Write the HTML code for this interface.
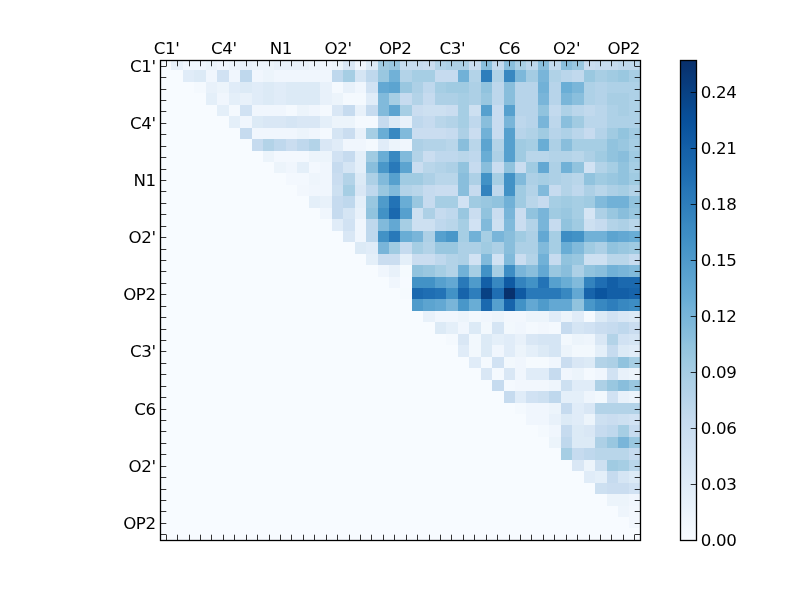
<!DOCTYPE html>
<html><head><meta charset="utf-8"><title>heatmap</title>
<style>html,body{margin:0;padding:0;background:#fff}svg{display:block}text{font-family:"DejaVu Sans","Liberation Sans",sans-serif;font-size:16.67px;fill:#000}.cb text{letter-spacing:-0.3px}.ax text{letter-spacing:-0.4px}</style></head><body>
<svg width="800" height="600" viewBox="0 0 800 600">
<rect x="0" y="0" width="800" height="600" fill="#ffffff"/>
<rect x="160" y="60" width="480" height="480" fill="#f7fbff"/>
<g shape-rendering="crispEdges">
<rect x="171" y="60" width="12" height="10" fill="#e8f1fa"/>
<rect x="183" y="60" width="23" height="10" fill="#f0f6fd"/>
<rect x="206" y="60" width="11" height="10" fill="#ecf4fb"/>
<rect x="217" y="60" width="12" height="10" fill="#f0f6fd"/>
<rect x="229" y="60" width="11" height="10" fill="#ecf4fb"/>
<rect x="240" y="60" width="12" height="10" fill="#e8f1fa"/>
<rect x="252" y="60" width="22" height="10" fill="#ecf4fb"/>
<rect x="274" y="60" width="35" height="10" fill="#e8f1fa"/>
<rect x="309" y="60" width="11" height="10" fill="#ecf4fb"/>
<rect x="320" y="60" width="12" height="10" fill="#f0f6fd"/>
<rect x="332" y="60" width="11" height="10" fill="#ecf4fb"/>
<rect x="343" y="60" width="12" height="10" fill="#d9e7f5"/>
<rect x="355" y="60" width="11" height="10" fill="#f0f6fd"/>
<rect x="366" y="60" width="12" height="10" fill="#dceaf6"/>
<rect x="378" y="60" width="11" height="10" fill="#a0cbe2"/>
<rect x="389" y="60" width="11" height="10" fill="#99c7e0"/>
<rect x="400" y="60" width="23" height="10" fill="#c6dbef"/>
<rect x="423" y="60" width="12" height="10" fill="#caddf0"/>
<rect x="435" y="60" width="11" height="10" fill="#b3d3e8"/>
<rect x="446" y="60" width="23" height="10" fill="#add0e6"/>
<rect x="469" y="60" width="12" height="10" fill="#caddf0"/>
<rect x="481" y="60" width="11" height="10" fill="#89bedc"/>
<rect x="492" y="60" width="12" height="10" fill="#c3daee"/>
<rect x="504" y="60" width="11" height="10" fill="#89bedc"/>
<rect x="515" y="60" width="11" height="10" fill="#aacfe5"/>
<rect x="526" y="60" width="12" height="10" fill="#bdd7ec"/>
<rect x="538" y="60" width="11" height="10" fill="#89bedc"/>
<rect x="549" y="60" width="12" height="10" fill="#c3daee"/>
<rect x="561" y="60" width="11" height="10" fill="#89bedc"/>
<rect x="572" y="60" width="12" height="10" fill="#99c7e0"/>
<rect x="584" y="60" width="11" height="10" fill="#caddf0"/>
<rect x="595" y="60" width="23" height="10" fill="#c6dbef"/>
<rect x="618" y="60" width="22" height="10" fill="#bfd8ed"/>
<rect x="183" y="70" width="11" height="12" fill="#e0ecf8"/>
<rect x="194" y="70" width="12" height="12" fill="#dceaf6"/>
<rect x="206" y="70" width="11" height="12" fill="#f0f6fd"/>
<rect x="217" y="70" width="12" height="12" fill="#d1e2f3"/>
<rect x="229" y="70" width="11" height="12" fill="#f0f6fd"/>
<rect x="240" y="70" width="12" height="12" fill="#bfd8ed"/>
<rect x="252" y="70" width="11" height="12" fill="#f0f6fd"/>
<rect x="263" y="70" width="11" height="12" fill="#ecf4fb"/>
<rect x="274" y="70" width="58" height="12" fill="#f0f6fd"/>
<rect x="332" y="70" width="11" height="12" fill="#bfd8ed"/>
<rect x="343" y="70" width="12" height="12" fill="#a6cee4"/>
<rect x="355" y="70" width="11" height="12" fill="#d5e5f4"/>
<rect x="366" y="70" width="12" height="12" fill="#bfd8ed"/>
<rect x="378" y="70" width="11" height="12" fill="#99c7e0"/>
<rect x="389" y="70" width="11" height="12" fill="#71b1d7"/>
<rect x="400" y="70" width="12" height="12" fill="#b3d3e8"/>
<rect x="412" y="70" width="23" height="12" fill="#a6cee4"/>
<rect x="435" y="70" width="23" height="12" fill="#c6dbef"/>
<rect x="458" y="70" width="11" height="12" fill="#71b1d7"/>
<rect x="469" y="70" width="12" height="12" fill="#b3d3e8"/>
<rect x="481" y="70" width="11" height="12" fill="#2e7ebc"/>
<rect x="492" y="70" width="12" height="12" fill="#b0d2e7"/>
<rect x="504" y="70" width="11" height="12" fill="#3888c1"/>
<rect x="515" y="70" width="11" height="12" fill="#7db8da"/>
<rect x="526" y="70" width="12" height="12" fill="#a4cce3"/>
<rect x="538" y="70" width="11" height="12" fill="#79b5d9"/>
<rect x="549" y="70" width="12" height="12" fill="#b0d2e7"/>
<rect x="561" y="70" width="11" height="12" fill="#bad6eb"/>
<rect x="572" y="70" width="12" height="12" fill="#c1d9ed"/>
<rect x="584" y="70" width="11" height="12" fill="#9ac8e0"/>
<rect x="595" y="70" width="12" height="12" fill="#a8cee4"/>
<rect x="607" y="70" width="11" height="12" fill="#a1cbe2"/>
<rect x="618" y="70" width="11" height="12" fill="#9ac8e0"/>
<rect x="629" y="70" width="11" height="12" fill="#a8cee4"/>
<rect x="194" y="82" width="12" height="11" fill="#f4f9fe"/>
<rect x="206" y="82" width="11" height="11" fill="#e8f1fa"/>
<rect x="217" y="82" width="12" height="11" fill="#ecf4fb"/>
<rect x="229" y="82" width="11" height="11" fill="#e0ecf8"/>
<rect x="240" y="82" width="12" height="11" fill="#dceaf6"/>
<rect x="252" y="82" width="11" height="11" fill="#e0ecf8"/>
<rect x="263" y="82" width="11" height="11" fill="#dceaf6"/>
<rect x="274" y="82" width="12" height="11" fill="#e0ecf8"/>
<rect x="286" y="82" width="34" height="11" fill="#dceaf6"/>
<rect x="320" y="82" width="12" height="11" fill="#e8f1fa"/>
<rect x="332" y="82" width="11" height="11" fill="#f4f9fe"/>
<rect x="343" y="82" width="12" height="11" fill="#e8f1fa"/>
<rect x="355" y="82" width="11" height="11" fill="#f0f6fd"/>
<rect x="366" y="82" width="12" height="11" fill="#d1e2f3"/>
<rect x="378" y="82" width="11" height="11" fill="#63a8d3"/>
<rect x="389" y="82" width="11" height="11" fill="#5ca4d0"/>
<rect x="400" y="82" width="12" height="11" fill="#99c7e0"/>
<rect x="412" y="82" width="11" height="11" fill="#add0e6"/>
<rect x="423" y="82" width="12" height="11" fill="#bfd8ed"/>
<rect x="435" y="82" width="11" height="11" fill="#a6cee4"/>
<rect x="446" y="82" width="23" height="11" fill="#a0cbe2"/>
<rect x="469" y="82" width="12" height="11" fill="#add0e6"/>
<rect x="481" y="82" width="11" height="11" fill="#91c3de"/>
<rect x="492" y="82" width="12" height="11" fill="#bdd7ec"/>
<rect x="504" y="82" width="11" height="11" fill="#89bedc"/>
<rect x="515" y="82" width="23" height="11" fill="#b7d4ea"/>
<rect x="538" y="82" width="11" height="11" fill="#71b1d7"/>
<rect x="549" y="82" width="12" height="11" fill="#b7d4ea"/>
<rect x="561" y="82" width="11" height="11" fill="#6aaed6"/>
<rect x="572" y="82" width="12" height="11" fill="#7ab6d9"/>
<rect x="584" y="82" width="11" height="11" fill="#aed1e7"/>
<rect x="595" y="82" width="12" height="11" fill="#b4d3e9"/>
<rect x="607" y="82" width="33" height="11" fill="#aed1e7"/>
<rect x="206" y="93" width="11" height="12" fill="#e4eff9"/>
<rect x="217" y="93" width="12" height="12" fill="#f0f6fd"/>
<rect x="229" y="93" width="11" height="12" fill="#e4eff9"/>
<rect x="240" y="93" width="12" height="12" fill="#e8f1fa"/>
<rect x="252" y="93" width="11" height="12" fill="#e0ecf8"/>
<rect x="263" y="93" width="11" height="12" fill="#dceaf6"/>
<rect x="274" y="93" width="12" height="12" fill="#e0ecf8"/>
<rect x="286" y="93" width="34" height="12" fill="#dceaf6"/>
<rect x="320" y="93" width="12" height="12" fill="#e8f1fa"/>
<rect x="332" y="93" width="11" height="12" fill="#ecf4fb"/>
<rect x="343" y="93" width="23" height="12" fill="#f4f9fe"/>
<rect x="366" y="93" width="12" height="12" fill="#e0ecf8"/>
<rect x="378" y="93" width="11" height="12" fill="#81badb"/>
<rect x="389" y="93" width="11" height="12" fill="#a6cee4"/>
<rect x="400" y="93" width="12" height="12" fill="#c6dbef"/>
<rect x="412" y="93" width="11" height="12" fill="#b3d3e8"/>
<rect x="423" y="93" width="12" height="12" fill="#c6dbef"/>
<rect x="435" y="93" width="23" height="12" fill="#add0e6"/>
<rect x="458" y="93" width="11" height="12" fill="#a6cee4"/>
<rect x="469" y="93" width="12" height="12" fill="#add0e6"/>
<rect x="481" y="93" width="11" height="12" fill="#99c7e0"/>
<rect x="492" y="93" width="12" height="12" fill="#bdd7ec"/>
<rect x="504" y="93" width="11" height="12" fill="#89bedc"/>
<rect x="515" y="93" width="23" height="12" fill="#b7d4ea"/>
<rect x="538" y="93" width="11" height="12" fill="#79b5d9"/>
<rect x="549" y="93" width="12" height="12" fill="#b7d4ea"/>
<rect x="561" y="93" width="11" height="12" fill="#7ab6d9"/>
<rect x="572" y="93" width="12" height="12" fill="#8abfdd"/>
<rect x="584" y="93" width="11" height="12" fill="#aed1e7"/>
<rect x="595" y="93" width="12" height="12" fill="#b4d3e9"/>
<rect x="607" y="93" width="22" height="12" fill="#a8cee4"/>
<rect x="629" y="93" width="11" height="12" fill="#aed1e7"/>
<rect x="217" y="105" width="12" height="11" fill="#e4eff9"/>
<rect x="229" y="105" width="11" height="11" fill="#f4f9fe"/>
<rect x="240" y="105" width="12" height="11" fill="#d1e2f3"/>
<rect x="252" y="105" width="34" height="11" fill="#f0f6fd"/>
<rect x="286" y="105" width="11" height="11" fill="#f4f9fe"/>
<rect x="297" y="105" width="12" height="11" fill="#ecf4fb"/>
<rect x="309" y="105" width="11" height="11" fill="#f0f6fd"/>
<rect x="320" y="105" width="12" height="11" fill="#f4f9fe"/>
<rect x="332" y="105" width="11" height="11" fill="#d9e7f5"/>
<rect x="343" y="105" width="12" height="11" fill="#c6dbef"/>
<rect x="355" y="105" width="11" height="11" fill="#e8f1fa"/>
<rect x="366" y="105" width="12" height="11" fill="#c6dbef"/>
<rect x="378" y="105" width="11" height="11" fill="#81badb"/>
<rect x="389" y="105" width="11" height="11" fill="#5ca4d0"/>
<rect x="400" y="105" width="12" height="11" fill="#a6cee4"/>
<rect x="412" y="105" width="11" height="11" fill="#caddf0"/>
<rect x="423" y="105" width="23" height="11" fill="#cde0f1"/>
<rect x="446" y="105" width="12" height="11" fill="#caddf0"/>
<rect x="458" y="105" width="11" height="11" fill="#a6cee4"/>
<rect x="469" y="105" width="12" height="11" fill="#cde0f1"/>
<rect x="481" y="105" width="11" height="11" fill="#56a0ce"/>
<rect x="492" y="105" width="12" height="11" fill="#c8dcf0"/>
<rect x="504" y="105" width="11" height="11" fill="#56a0ce"/>
<rect x="515" y="105" width="23" height="11" fill="#b7d4ea"/>
<rect x="538" y="105" width="11" height="11" fill="#91c3de"/>
<rect x="549" y="105" width="12" height="11" fill="#c3daee"/>
<rect x="561" y="105" width="11" height="11" fill="#aed1e7"/>
<rect x="572" y="105" width="12" height="11" fill="#bad6eb"/>
<rect x="584" y="105" width="11" height="11" fill="#c1d9ed"/>
<rect x="595" y="105" width="12" height="11" fill="#bad6eb"/>
<rect x="607" y="105" width="11" height="11" fill="#aed1e7"/>
<rect x="618" y="105" width="11" height="11" fill="#a8cee4"/>
<rect x="629" y="105" width="11" height="11" fill="#aed1e7"/>
<rect x="229" y="116" width="11" height="12" fill="#e4eff9"/>
<rect x="240" y="116" width="12" height="12" fill="#f0f6fd"/>
<rect x="252" y="116" width="11" height="12" fill="#dceaf6"/>
<rect x="263" y="116" width="23" height="12" fill="#d9e7f5"/>
<rect x="286" y="116" width="11" height="12" fill="#d5e5f4"/>
<rect x="297" y="116" width="23" height="12" fill="#d9e7f5"/>
<rect x="320" y="116" width="12" height="12" fill="#e4eff9"/>
<rect x="332" y="116" width="23" height="12" fill="#ecf4fb"/>
<rect x="355" y="116" width="23" height="12" fill="#f4f9fe"/>
<rect x="378" y="116" width="11" height="12" fill="#c6dbef"/>
<rect x="389" y="116" width="11" height="12" fill="#dceaf6"/>
<rect x="400" y="116" width="12" height="12" fill="#e8f1fa"/>
<rect x="412" y="116" width="11" height="12" fill="#bfd8ed"/>
<rect x="423" y="116" width="12" height="12" fill="#c6dbef"/>
<rect x="435" y="116" width="11" height="12" fill="#b9d6ea"/>
<rect x="446" y="116" width="12" height="12" fill="#b3d3e8"/>
<rect x="458" y="116" width="11" height="12" fill="#a6cee4"/>
<rect x="469" y="116" width="12" height="12" fill="#bfd8ed"/>
<rect x="481" y="116" width="11" height="12" fill="#89bedc"/>
<rect x="492" y="116" width="12" height="12" fill="#c8dcf0"/>
<rect x="504" y="116" width="11" height="12" fill="#79b5d9"/>
<rect x="515" y="116" width="11" height="12" fill="#bdd7ec"/>
<rect x="526" y="116" width="12" height="12" fill="#b7d4ea"/>
<rect x="538" y="116" width="11" height="12" fill="#79b5d9"/>
<rect x="549" y="116" width="12" height="12" fill="#bdd7ec"/>
<rect x="561" y="116" width="11" height="12" fill="#8abfdd"/>
<rect x="572" y="116" width="12" height="12" fill="#a1cbe2"/>
<rect x="584" y="116" width="23" height="12" fill="#bad6eb"/>
<rect x="607" y="116" width="33" height="12" fill="#aed1e7"/>
<rect x="240" y="128" width="12" height="11" fill="#c6dbef"/>
<rect x="252" y="128" width="45" height="11" fill="#f0f6fd"/>
<rect x="297" y="128" width="12" height="11" fill="#ecf4fb"/>
<rect x="309" y="128" width="11" height="11" fill="#f0f6fd"/>
<rect x="320" y="128" width="12" height="11" fill="#f4f9fe"/>
<rect x="332" y="128" width="11" height="11" fill="#d5e5f4"/>
<rect x="343" y="128" width="12" height="11" fill="#caddf0"/>
<rect x="355" y="128" width="11" height="11" fill="#e8f1fa"/>
<rect x="366" y="128" width="12" height="11" fill="#a6cee4"/>
<rect x="378" y="128" width="11" height="11" fill="#69add5"/>
<rect x="389" y="128" width="11" height="11" fill="#3888c1"/>
<rect x="400" y="128" width="12" height="11" fill="#81badb"/>
<rect x="412" y="128" width="34" height="11" fill="#caddf0"/>
<rect x="446" y="128" width="12" height="11" fill="#c6dbef"/>
<rect x="458" y="128" width="11" height="11" fill="#add0e6"/>
<rect x="469" y="128" width="12" height="11" fill="#caddf0"/>
<rect x="481" y="128" width="11" height="11" fill="#71b1d7"/>
<rect x="492" y="128" width="12" height="11" fill="#c8dcf0"/>
<rect x="504" y="128" width="11" height="11" fill="#56a0ce"/>
<rect x="515" y="128" width="11" height="11" fill="#b7d4ea"/>
<rect x="526" y="128" width="12" height="11" fill="#b0d2e7"/>
<rect x="538" y="128" width="11" height="11" fill="#a0cbe2"/>
<rect x="549" y="128" width="12" height="11" fill="#b7d4ea"/>
<rect x="561" y="128" width="11" height="11" fill="#aed1e7"/>
<rect x="572" y="128" width="12" height="11" fill="#bad6eb"/>
<rect x="584" y="128" width="11" height="11" fill="#c7dbef"/>
<rect x="595" y="128" width="12" height="11" fill="#b4d3e9"/>
<rect x="607" y="128" width="11" height="11" fill="#a1cbe2"/>
<rect x="618" y="128" width="11" height="11" fill="#92c4de"/>
<rect x="629" y="128" width="11" height="11" fill="#a1cbe2"/>
<rect x="252" y="139" width="11" height="12" fill="#c6dbef"/>
<rect x="263" y="139" width="11" height="12" fill="#b3d3e8"/>
<rect x="274" y="139" width="12" height="12" fill="#bfd8ed"/>
<rect x="286" y="139" width="11" height="12" fill="#caddf0"/>
<rect x="297" y="139" width="12" height="12" fill="#bfd8ed"/>
<rect x="309" y="139" width="11" height="12" fill="#b3d3e8"/>
<rect x="320" y="139" width="12" height="12" fill="#d9e7f5"/>
<rect x="332" y="139" width="11" height="12" fill="#e0ecf8"/>
<rect x="343" y="139" width="23" height="12" fill="#f0f6fd"/>
<rect x="366" y="139" width="12" height="12" fill="#f4f9fe"/>
<rect x="378" y="139" width="11" height="12" fill="#e0ecf8"/>
<rect x="389" y="139" width="11" height="12" fill="#ecf4fb"/>
<rect x="400" y="139" width="12" height="12" fill="#f0f6fd"/>
<rect x="412" y="139" width="11" height="12" fill="#add0e6"/>
<rect x="423" y="139" width="23" height="12" fill="#b3d3e8"/>
<rect x="446" y="139" width="12" height="12" fill="#b9d6ea"/>
<rect x="458" y="139" width="11" height="12" fill="#89bedc"/>
<rect x="469" y="139" width="12" height="12" fill="#b9d6ea"/>
<rect x="481" y="139" width="11" height="12" fill="#5ca4d0"/>
<rect x="492" y="139" width="12" height="12" fill="#b3d3e8"/>
<rect x="504" y="139" width="11" height="12" fill="#56a0ce"/>
<rect x="515" y="139" width="11" height="12" fill="#a0cbe2"/>
<rect x="526" y="139" width="12" height="12" fill="#a6cee4"/>
<rect x="538" y="139" width="11" height="12" fill="#69add5"/>
<rect x="549" y="139" width="12" height="12" fill="#add0e6"/>
<rect x="561" y="139" width="11" height="12" fill="#89bedc"/>
<rect x="572" y="139" width="35" height="12" fill="#a6cee4"/>
<rect x="607" y="139" width="11" height="12" fill="#91c3de"/>
<rect x="618" y="139" width="11" height="12" fill="#99c7e0"/>
<rect x="629" y="139" width="11" height="12" fill="#a6cee4"/>
<rect x="263" y="151" width="11" height="11" fill="#ecf4fb"/>
<rect x="274" y="151" width="35" height="11" fill="#f3f8fe"/>
<rect x="309" y="151" width="23" height="11" fill="#ecf4fb"/>
<rect x="332" y="151" width="11" height="11" fill="#d1e2f3"/>
<rect x="343" y="151" width="12" height="11" fill="#c6dbef"/>
<rect x="355" y="151" width="11" height="11" fill="#e4eff9"/>
<rect x="366" y="151" width="12" height="11" fill="#a0cbe2"/>
<rect x="378" y="151" width="11" height="11" fill="#69add5"/>
<rect x="389" y="151" width="11" height="11" fill="#3888c1"/>
<rect x="400" y="151" width="12" height="11" fill="#81badb"/>
<rect x="412" y="151" width="11" height="11" fill="#b3d3e8"/>
<rect x="423" y="151" width="12" height="11" fill="#caddf0"/>
<rect x="435" y="151" width="23" height="11" fill="#bfd8ed"/>
<rect x="458" y="151" width="11" height="11" fill="#b9d6ea"/>
<rect x="469" y="151" width="12" height="11" fill="#bfd8ed"/>
<rect x="481" y="151" width="11" height="11" fill="#69add5"/>
<rect x="492" y="151" width="12" height="11" fill="#add0e6"/>
<rect x="504" y="151" width="11" height="11" fill="#56a0ce"/>
<rect x="515" y="151" width="11" height="11" fill="#a0cbe2"/>
<rect x="526" y="151" width="23" height="11" fill="#b9d6ea"/>
<rect x="549" y="151" width="23" height="11" fill="#b3d3e8"/>
<rect x="572" y="151" width="12" height="11" fill="#b9d6ea"/>
<rect x="584" y="151" width="11" height="11" fill="#add0e6"/>
<rect x="595" y="151" width="12" height="11" fill="#a0cbe2"/>
<rect x="607" y="151" width="11" height="11" fill="#91c3de"/>
<rect x="618" y="151" width="11" height="11" fill="#89bedc"/>
<rect x="629" y="151" width="11" height="11" fill="#a0cbe2"/>
<rect x="274" y="162" width="12" height="11" fill="#ecf4fb"/>
<rect x="286" y="162" width="11" height="11" fill="#f0f6fd"/>
<rect x="297" y="162" width="12" height="11" fill="#e4eff9"/>
<rect x="309" y="162" width="11" height="11" fill="#f3f8fe"/>
<rect x="320" y="162" width="12" height="11" fill="#f0f6fd"/>
<rect x="332" y="162" width="11" height="11" fill="#c6dbef"/>
<rect x="343" y="162" width="12" height="11" fill="#d5e5f4"/>
<rect x="355" y="162" width="11" height="11" fill="#e4eff9"/>
<rect x="366" y="162" width="12" height="11" fill="#89bedc"/>
<rect x="378" y="162" width="11" height="11" fill="#4997c9"/>
<rect x="389" y="162" width="11" height="11" fill="#2979b9"/>
<rect x="400" y="162" width="12" height="11" fill="#5ca4d0"/>
<rect x="412" y="162" width="11" height="11" fill="#caddf0"/>
<rect x="423" y="162" width="12" height="11" fill="#b9d6ea"/>
<rect x="435" y="162" width="11" height="11" fill="#b3d3e8"/>
<rect x="446" y="162" width="12" height="11" fill="#add0e6"/>
<rect x="458" y="162" width="11" height="11" fill="#91c3de"/>
<rect x="469" y="162" width="12" height="11" fill="#c6dbef"/>
<rect x="481" y="162" width="11" height="11" fill="#89bedc"/>
<rect x="492" y="162" width="12" height="11" fill="#caddf0"/>
<rect x="504" y="162" width="11" height="11" fill="#91c3de"/>
<rect x="515" y="162" width="11" height="11" fill="#caddf0"/>
<rect x="526" y="162" width="12" height="11" fill="#a0cbe2"/>
<rect x="538" y="162" width="11" height="11" fill="#63a8d3"/>
<rect x="549" y="162" width="12" height="11" fill="#add0e6"/>
<rect x="561" y="162" width="11" height="11" fill="#71b1d7"/>
<rect x="572" y="162" width="12" height="11" fill="#91c3de"/>
<rect x="584" y="162" width="11" height="11" fill="#d1e2f3"/>
<rect x="595" y="162" width="12" height="11" fill="#b3d3e8"/>
<rect x="607" y="162" width="11" height="11" fill="#a6cee4"/>
<rect x="618" y="162" width="11" height="11" fill="#91c3de"/>
<rect x="629" y="162" width="11" height="11" fill="#a6cee4"/>
<rect x="286" y="173" width="23" height="12" fill="#f3f8fe"/>
<rect x="309" y="173" width="11" height="12" fill="#eef5fc"/>
<rect x="320" y="173" width="12" height="12" fill="#f0f6fd"/>
<rect x="332" y="173" width="11" height="12" fill="#caddf0"/>
<rect x="343" y="173" width="12" height="12" fill="#b3d3e8"/>
<rect x="355" y="173" width="11" height="12" fill="#dceaf6"/>
<rect x="366" y="173" width="12" height="12" fill="#add0e6"/>
<rect x="378" y="173" width="11" height="12" fill="#81badb"/>
<rect x="389" y="173" width="11" height="12" fill="#56a0ce"/>
<rect x="400" y="173" width="23" height="12" fill="#a0cbe2"/>
<rect x="423" y="173" width="12" height="12" fill="#add0e6"/>
<rect x="435" y="173" width="23" height="12" fill="#b9d6ea"/>
<rect x="458" y="173" width="11" height="12" fill="#89bedc"/>
<rect x="469" y="173" width="12" height="12" fill="#add0e6"/>
<rect x="481" y="173" width="11" height="12" fill="#4292c6"/>
<rect x="492" y="173" width="12" height="12" fill="#a6cee4"/>
<rect x="504" y="173" width="11" height="12" fill="#4292c6"/>
<rect x="515" y="173" width="11" height="12" fill="#81badb"/>
<rect x="526" y="173" width="12" height="12" fill="#add0e6"/>
<rect x="538" y="173" width="11" height="12" fill="#a6cee4"/>
<rect x="549" y="173" width="12" height="12" fill="#add0e6"/>
<rect x="561" y="173" width="11" height="12" fill="#b3d3e8"/>
<rect x="572" y="173" width="12" height="12" fill="#b9d6ea"/>
<rect x="584" y="173" width="11" height="12" fill="#91c3de"/>
<rect x="595" y="173" width="12" height="12" fill="#a0cbe2"/>
<rect x="607" y="173" width="11" height="12" fill="#99c7e0"/>
<rect x="618" y="173" width="11" height="12" fill="#91c3de"/>
<rect x="629" y="173" width="11" height="12" fill="#a0cbe2"/>
<rect x="297" y="185" width="12" height="11" fill="#f2f7fd"/>
<rect x="309" y="185" width="23" height="11" fill="#f0f6fd"/>
<rect x="332" y="185" width="11" height="11" fill="#cde0f1"/>
<rect x="343" y="185" width="12" height="11" fill="#a6cee4"/>
<rect x="355" y="185" width="11" height="11" fill="#d9e7f5"/>
<rect x="366" y="185" width="12" height="11" fill="#bfd8ed"/>
<rect x="378" y="185" width="11" height="11" fill="#99c7e0"/>
<rect x="389" y="185" width="11" height="11" fill="#81badb"/>
<rect x="400" y="185" width="12" height="11" fill="#b3d3e8"/>
<rect x="412" y="185" width="11" height="11" fill="#b9d6ea"/>
<rect x="423" y="185" width="12" height="11" fill="#c6dbef"/>
<rect x="435" y="185" width="23" height="11" fill="#caddf0"/>
<rect x="458" y="185" width="11" height="11" fill="#89bedc"/>
<rect x="469" y="185" width="12" height="11" fill="#c6dbef"/>
<rect x="481" y="185" width="11" height="11" fill="#3383be"/>
<rect x="492" y="185" width="12" height="11" fill="#bfd8ed"/>
<rect x="504" y="185" width="11" height="11" fill="#4292c6"/>
<rect x="515" y="185" width="11" height="11" fill="#a0cbe2"/>
<rect x="526" y="185" width="12" height="11" fill="#b3d3e8"/>
<rect x="538" y="185" width="11" height="11" fill="#81badb"/>
<rect x="549" y="185" width="12" height="11" fill="#c6dbef"/>
<rect x="561" y="185" width="11" height="11" fill="#b3d3e8"/>
<rect x="572" y="185" width="12" height="11" fill="#bfd8ed"/>
<rect x="584" y="185" width="11" height="11" fill="#add0e6"/>
<rect x="595" y="185" width="12" height="11" fill="#b9d6ea"/>
<rect x="607" y="185" width="11" height="11" fill="#add0e6"/>
<rect x="618" y="185" width="11" height="11" fill="#a6cee4"/>
<rect x="629" y="185" width="11" height="11" fill="#b3d3e8"/>
<rect x="309" y="196" width="11" height="12" fill="#e4eff9"/>
<rect x="320" y="196" width="12" height="12" fill="#e8f1fa"/>
<rect x="332" y="196" width="11" height="12" fill="#c6dbef"/>
<rect x="343" y="196" width="12" height="12" fill="#bfd8ed"/>
<rect x="355" y="196" width="11" height="12" fill="#e4eff9"/>
<rect x="366" y="196" width="12" height="12" fill="#99c7e0"/>
<rect x="378" y="196" width="11" height="12" fill="#4f9bcb"/>
<rect x="389" y="196" width="11" height="12" fill="#2373b6"/>
<rect x="400" y="196" width="12" height="12" fill="#69add5"/>
<rect x="412" y="196" width="11" height="12" fill="#99c7e0"/>
<rect x="423" y="196" width="12" height="12" fill="#c6dbef"/>
<rect x="435" y="196" width="23" height="12" fill="#a6cee4"/>
<rect x="458" y="196" width="11" height="12" fill="#d1e2f3"/>
<rect x="469" y="196" width="12" height="12" fill="#a0cbe2"/>
<rect x="481" y="196" width="11" height="12" fill="#99c7e0"/>
<rect x="492" y="196" width="12" height="12" fill="#91c3de"/>
<rect x="504" y="196" width="11" height="12" fill="#71b1d7"/>
<rect x="515" y="196" width="11" height="12" fill="#a0cbe2"/>
<rect x="526" y="196" width="12" height="12" fill="#b9d6ea"/>
<rect x="538" y="196" width="11" height="12" fill="#c6dbef"/>
<rect x="549" y="196" width="12" height="12" fill="#a6cee4"/>
<rect x="561" y="196" width="11" height="12" fill="#a0cbe2"/>
<rect x="572" y="196" width="12" height="12" fill="#a6cee4"/>
<rect x="584" y="196" width="11" height="12" fill="#a0cbe2"/>
<rect x="595" y="196" width="12" height="12" fill="#81badb"/>
<rect x="607" y="196" width="22" height="12" fill="#71b1d7"/>
<rect x="629" y="196" width="11" height="12" fill="#91c3de"/>
<rect x="320" y="208" width="12" height="11" fill="#f0f6fd"/>
<rect x="332" y="208" width="11" height="11" fill="#c6dbef"/>
<rect x="343" y="208" width="12" height="11" fill="#d5e5f4"/>
<rect x="355" y="208" width="11" height="11" fill="#e8f1fa"/>
<rect x="366" y="208" width="12" height="11" fill="#91c3de"/>
<rect x="378" y="208" width="11" height="11" fill="#4292c6"/>
<rect x="389" y="208" width="11" height="11" fill="#1b69af"/>
<rect x="400" y="208" width="12" height="11" fill="#56a0ce"/>
<rect x="412" y="208" width="11" height="11" fill="#cde0f1"/>
<rect x="423" y="208" width="12" height="11" fill="#add0e6"/>
<rect x="435" y="208" width="11" height="11" fill="#c6dbef"/>
<rect x="446" y="208" width="12" height="11" fill="#bfd8ed"/>
<rect x="458" y="208" width="11" height="11" fill="#99c7e0"/>
<rect x="469" y="208" width="12" height="11" fill="#caddf0"/>
<rect x="481" y="208" width="11" height="11" fill="#91c3de"/>
<rect x="492" y="208" width="12" height="11" fill="#caddf0"/>
<rect x="504" y="208" width="11" height="11" fill="#79b5d9"/>
<rect x="515" y="208" width="11" height="11" fill="#caddf0"/>
<rect x="526" y="208" width="12" height="11" fill="#91c3de"/>
<rect x="538" y="208" width="11" height="11" fill="#79b5d9"/>
<rect x="549" y="208" width="12" height="11" fill="#a0cbe2"/>
<rect x="561" y="208" width="11" height="11" fill="#99c7e0"/>
<rect x="572" y="208" width="12" height="11" fill="#a6cee4"/>
<rect x="584" y="208" width="11" height="11" fill="#d5e5f4"/>
<rect x="595" y="208" width="12" height="11" fill="#add0e6"/>
<rect x="607" y="208" width="11" height="11" fill="#99c7e0"/>
<rect x="618" y="208" width="11" height="11" fill="#89bedc"/>
<rect x="629" y="208" width="11" height="11" fill="#99c7e0"/>
<rect x="332" y="219" width="11" height="12" fill="#e0ecf8"/>
<rect x="343" y="219" width="12" height="12" fill="#d1e2f3"/>
<rect x="355" y="219" width="11" height="12" fill="#f0f6fd"/>
<rect x="366" y="219" width="12" height="12" fill="#bfd8ed"/>
<rect x="378" y="219" width="11" height="12" fill="#81badb"/>
<rect x="389" y="219" width="11" height="12" fill="#63a8d3"/>
<rect x="400" y="219" width="12" height="12" fill="#a6cee4"/>
<rect x="412" y="219" width="23" height="12" fill="#cde0f1"/>
<rect x="435" y="219" width="11" height="12" fill="#bfd8ed"/>
<rect x="446" y="219" width="12" height="12" fill="#b9d6ea"/>
<rect x="458" y="219" width="11" height="12" fill="#a6cee4"/>
<rect x="469" y="219" width="12" height="12" fill="#d1e2f3"/>
<rect x="481" y="219" width="11" height="12" fill="#81badb"/>
<rect x="492" y="219" width="12" height="12" fill="#cde0f1"/>
<rect x="504" y="219" width="11" height="12" fill="#81badb"/>
<rect x="515" y="219" width="11" height="12" fill="#caddf0"/>
<rect x="526" y="219" width="12" height="12" fill="#b3d3e8"/>
<rect x="538" y="219" width="11" height="12" fill="#79b5d9"/>
<rect x="549" y="219" width="12" height="12" fill="#c6dbef"/>
<rect x="561" y="219" width="11" height="12" fill="#91c3de"/>
<rect x="572" y="219" width="12" height="12" fill="#a0cbe2"/>
<rect x="584" y="219" width="11" height="12" fill="#cde0f1"/>
<rect x="595" y="219" width="12" height="12" fill="#c6dbef"/>
<rect x="607" y="219" width="11" height="12" fill="#b3d3e8"/>
<rect x="618" y="219" width="11" height="12" fill="#add0e6"/>
<rect x="629" y="219" width="11" height="12" fill="#b9d6ea"/>
<rect x="343" y="231" width="12" height="11" fill="#d9e7f5"/>
<rect x="355" y="231" width="11" height="11" fill="#f0f6fd"/>
<rect x="366" y="231" width="12" height="11" fill="#bfd8ed"/>
<rect x="378" y="231" width="11" height="11" fill="#4292c6"/>
<rect x="389" y="231" width="11" height="11" fill="#2979b9"/>
<rect x="400" y="231" width="12" height="11" fill="#69add5"/>
<rect x="412" y="231" width="11" height="11" fill="#79b5d9"/>
<rect x="423" y="231" width="12" height="11" fill="#add0e6"/>
<rect x="435" y="231" width="11" height="11" fill="#56a0ce"/>
<rect x="446" y="231" width="12" height="11" fill="#4997c9"/>
<rect x="458" y="231" width="11" height="11" fill="#a6cee4"/>
<rect x="469" y="231" width="12" height="11" fill="#71b1d7"/>
<rect x="481" y="231" width="11" height="11" fill="#a6cee4"/>
<rect x="492" y="231" width="12" height="11" fill="#79b5d9"/>
<rect x="504" y="231" width="11" height="11" fill="#89bedc"/>
<rect x="515" y="231" width="11" height="11" fill="#a0cbe2"/>
<rect x="526" y="231" width="12" height="11" fill="#add0e6"/>
<rect x="538" y="231" width="11" height="11" fill="#63a8d3"/>
<rect x="549" y="231" width="12" height="11" fill="#a6cee4"/>
<rect x="561" y="231" width="11" height="11" fill="#3d8dc4"/>
<rect x="572" y="231" width="12" height="11" fill="#4292c6"/>
<rect x="584" y="231" width="23" height="11" fill="#71b1d7"/>
<rect x="607" y="231" width="11" height="11" fill="#5ca4d0"/>
<rect x="618" y="231" width="11" height="11" fill="#63a8d3"/>
<rect x="629" y="231" width="11" height="11" fill="#69add5"/>
<rect x="355" y="242" width="11" height="12" fill="#dceaf6"/>
<rect x="366" y="242" width="12" height="12" fill="#e0ecf8"/>
<rect x="378" y="242" width="11" height="12" fill="#79b5d9"/>
<rect x="389" y="242" width="11" height="12" fill="#a0cbe2"/>
<rect x="400" y="242" width="12" height="12" fill="#c6dbef"/>
<rect x="412" y="242" width="11" height="12" fill="#a6cee4"/>
<rect x="423" y="242" width="12" height="12" fill="#b3d3e8"/>
<rect x="435" y="242" width="23" height="12" fill="#99c7e0"/>
<rect x="458" y="242" width="23" height="12" fill="#add0e6"/>
<rect x="481" y="242" width="11" height="12" fill="#a0cbe2"/>
<rect x="492" y="242" width="12" height="12" fill="#add0e6"/>
<rect x="504" y="242" width="11" height="12" fill="#89bedc"/>
<rect x="515" y="242" width="23" height="12" fill="#add0e6"/>
<rect x="538" y="242" width="11" height="12" fill="#81badb"/>
<rect x="549" y="242" width="12" height="12" fill="#a6cee4"/>
<rect x="561" y="242" width="11" height="12" fill="#69add5"/>
<rect x="572" y="242" width="12" height="12" fill="#81badb"/>
<rect x="584" y="242" width="11" height="12" fill="#a0cbe2"/>
<rect x="595" y="242" width="12" height="12" fill="#add0e6"/>
<rect x="607" y="242" width="11" height="12" fill="#91c3de"/>
<rect x="618" y="242" width="11" height="12" fill="#99c7e0"/>
<rect x="629" y="242" width="11" height="12" fill="#a0cbe2"/>
<rect x="366" y="254" width="12" height="11" fill="#e4eff9"/>
<rect x="378" y="254" width="22" height="11" fill="#caddf0"/>
<rect x="400" y="254" width="12" height="11" fill="#e4eff9"/>
<rect x="412" y="254" width="23" height="11" fill="#caddf0"/>
<rect x="435" y="254" width="11" height="11" fill="#bfd8ed"/>
<rect x="446" y="254" width="12" height="11" fill="#b3d3e8"/>
<rect x="458" y="254" width="11" height="11" fill="#add0e6"/>
<rect x="469" y="254" width="12" height="11" fill="#d1e2f3"/>
<rect x="481" y="254" width="11" height="11" fill="#81badb"/>
<rect x="492" y="254" width="12" height="11" fill="#d1e2f3"/>
<rect x="504" y="254" width="11" height="11" fill="#81badb"/>
<rect x="515" y="254" width="11" height="11" fill="#caddf0"/>
<rect x="526" y="254" width="12" height="11" fill="#b3d3e8"/>
<rect x="538" y="254" width="11" height="11" fill="#71b1d7"/>
<rect x="549" y="254" width="12" height="11" fill="#c6dbef"/>
<rect x="561" y="254" width="11" height="11" fill="#91c3de"/>
<rect x="572" y="254" width="12" height="11" fill="#99c7e0"/>
<rect x="584" y="254" width="23" height="11" fill="#cde0f1"/>
<rect x="607" y="254" width="22" height="11" fill="#b9d6ea"/>
<rect x="629" y="254" width="11" height="11" fill="#c6dbef"/>
<rect x="378" y="265" width="11" height="12" fill="#f0f6fd"/>
<rect x="389" y="265" width="11" height="12" fill="#e8f1fa"/>
<rect x="400" y="265" width="12" height="12" fill="#f5fafe"/>
<rect x="412" y="265" width="11" height="12" fill="#91c3de"/>
<rect x="423" y="265" width="12" height="12" fill="#99c7e0"/>
<rect x="435" y="265" width="11" height="12" fill="#a6cee4"/>
<rect x="446" y="265" width="12" height="12" fill="#b3d3e8"/>
<rect x="458" y="265" width="11" height="12" fill="#71b1d7"/>
<rect x="469" y="265" width="12" height="12" fill="#a6cee4"/>
<rect x="481" y="265" width="11" height="12" fill="#4292c6"/>
<rect x="492" y="265" width="12" height="12" fill="#a6cee4"/>
<rect x="504" y="265" width="11" height="12" fill="#3d8dc4"/>
<rect x="515" y="265" width="11" height="12" fill="#79b5d9"/>
<rect x="526" y="265" width="12" height="12" fill="#89bedc"/>
<rect x="538" y="265" width="11" height="12" fill="#63a8d3"/>
<rect x="549" y="265" width="12" height="12" fill="#99c7e0"/>
<rect x="561" y="265" width="11" height="12" fill="#89bedc"/>
<rect x="572" y="265" width="12" height="12" fill="#add0e6"/>
<rect x="584" y="265" width="11" height="12" fill="#91c3de"/>
<rect x="595" y="265" width="12" height="12" fill="#89bedc"/>
<rect x="607" y="265" width="11" height="12" fill="#71b1d7"/>
<rect x="618" y="265" width="11" height="12" fill="#79b5d9"/>
<rect x="629" y="265" width="11" height="12" fill="#81badb"/>
<rect x="389" y="277" width="11" height="11" fill="#f0f6fd"/>
<rect x="400" y="277" width="12" height="11" fill="#f6faff"/>
<rect x="412" y="277" width="23" height="11" fill="#4292c6"/>
<rect x="435" y="277" width="11" height="11" fill="#56a0ce"/>
<rect x="446" y="277" width="12" height="11" fill="#63a8d3"/>
<rect x="458" y="277" width="11" height="11" fill="#2979b9"/>
<rect x="469" y="277" width="12" height="11" fill="#4f9bcb"/>
<rect x="481" y="277" width="11" height="11" fill="#135fa7"/>
<rect x="492" y="277" width="12" height="11" fill="#3888c1"/>
<rect x="504" y="277" width="11" height="11" fill="#0f5aa3"/>
<rect x="515" y="277" width="11" height="11" fill="#3383be"/>
<rect x="526" y="277" width="12" height="11" fill="#4292c6"/>
<rect x="538" y="277" width="11" height="11" fill="#2373b6"/>
<rect x="549" y="277" width="12" height="11" fill="#56a0ce"/>
<rect x="561" y="277" width="11" height="11" fill="#69add5"/>
<rect x="572" y="277" width="12" height="11" fill="#81badb"/>
<rect x="584" y="277" width="11" height="11" fill="#3383be"/>
<rect x="595" y="277" width="12" height="11" fill="#1f6eb3"/>
<rect x="607" y="277" width="11" height="11" fill="#135fa7"/>
<rect x="618" y="277" width="22" height="11" fill="#1b69af"/>
<rect x="400" y="288" width="12" height="11" fill="#f5fafe"/>
<rect x="412" y="288" width="11" height="11" fill="#1b69af"/>
<rect x="423" y="288" width="12" height="11" fill="#1f6eb3"/>
<rect x="435" y="288" width="11" height="11" fill="#2373b6"/>
<rect x="446" y="288" width="12" height="11" fill="#4292c6"/>
<rect x="458" y="288" width="11" height="11" fill="#1764ab"/>
<rect x="469" y="288" width="12" height="11" fill="#2e7ebc"/>
<rect x="481" y="288" width="11" height="11" fill="#084184"/>
<rect x="492" y="288" width="12" height="11" fill="#1f6eb3"/>
<rect x="504" y="288" width="11" height="11" fill="#08316d"/>
<rect x="515" y="288" width="11" height="11" fill="#0f5aa3"/>
<rect x="526" y="288" width="35" height="11" fill="#2979b9"/>
<rect x="561" y="288" width="11" height="11" fill="#3888c1"/>
<rect x="572" y="288" width="12" height="11" fill="#63a8d3"/>
<rect x="584" y="288" width="11" height="11" fill="#1764ab"/>
<rect x="595" y="288" width="12" height="11" fill="#0b559f"/>
<rect x="607" y="288" width="22" height="11" fill="#135fa7"/>
<rect x="629" y="288" width="11" height="11" fill="#1764ab"/>
<rect x="412" y="299" width="11" height="12" fill="#4f9bcb"/>
<rect x="423" y="299" width="12" height="12" fill="#5ca4d0"/>
<rect x="435" y="299" width="11" height="12" fill="#63a8d3"/>
<rect x="446" y="299" width="12" height="12" fill="#79b5d9"/>
<rect x="458" y="299" width="11" height="12" fill="#4997c9"/>
<rect x="469" y="299" width="12" height="12" fill="#69add5"/>
<rect x="481" y="299" width="11" height="12" fill="#1b69af"/>
<rect x="492" y="299" width="12" height="12" fill="#56a0ce"/>
<rect x="504" y="299" width="11" height="12" fill="#1764ab"/>
<rect x="515" y="299" width="11" height="12" fill="#4292c6"/>
<rect x="526" y="299" width="12" height="12" fill="#63a8d3"/>
<rect x="538" y="299" width="11" height="12" fill="#4f9bcb"/>
<rect x="549" y="299" width="23" height="12" fill="#63a8d3"/>
<rect x="572" y="299" width="12" height="12" fill="#91c3de"/>
<rect x="584" y="299" width="11" height="12" fill="#4997c9"/>
<rect x="595" y="299" width="12" height="12" fill="#3888c1"/>
<rect x="607" y="299" width="11" height="12" fill="#2e7ebc"/>
<rect x="618" y="299" width="11" height="12" fill="#3888c1"/>
<rect x="629" y="299" width="11" height="12" fill="#3d8dc4"/>
<rect x="423" y="311" width="12" height="11" fill="#e8f1fa"/>
<rect x="435" y="311" width="23" height="11" fill="#f0f6fd"/>
<rect x="458" y="311" width="11" height="11" fill="#ecf4fb"/>
<rect x="469" y="311" width="12" height="11" fill="#f2f8fd"/>
<rect x="481" y="311" width="11" height="11" fill="#f0f6fd"/>
<rect x="492" y="311" width="12" height="11" fill="#ecf4fb"/>
<rect x="504" y="311" width="22" height="11" fill="#f2f7fd"/>
<rect x="526" y="311" width="23" height="11" fill="#ecf4fb"/>
<rect x="549" y="311" width="12" height="11" fill="#e0ecf8"/>
<rect x="561" y="311" width="11" height="11" fill="#ecf4fb"/>
<rect x="572" y="311" width="12" height="11" fill="#e0ecf8"/>
<rect x="584" y="311" width="11" height="11" fill="#f4f9fe"/>
<rect x="595" y="311" width="12" height="11" fill="#dceaf6"/>
<rect x="607" y="311" width="11" height="11" fill="#d1e2f3"/>
<rect x="618" y="311" width="11" height="11" fill="#d9e7f5"/>
<rect x="629" y="311" width="11" height="11" fill="#dceaf6"/>
<rect x="435" y="322" width="11" height="12" fill="#dceaf6"/>
<rect x="446" y="322" width="12" height="12" fill="#e4eff9"/>
<rect x="458" y="322" width="11" height="12" fill="#f0f6fd"/>
<rect x="469" y="322" width="12" height="12" fill="#dceaf6"/>
<rect x="481" y="322" width="11" height="12" fill="#f2f8fd"/>
<rect x="492" y="322" width="12" height="12" fill="#d5e5f4"/>
<rect x="504" y="322" width="11" height="12" fill="#f2f8fd"/>
<rect x="515" y="322" width="11" height="12" fill="#f0f6fd"/>
<rect x="526" y="322" width="12" height="12" fill="#f4f9fe"/>
<rect x="538" y="322" width="11" height="12" fill="#f2f7fd"/>
<rect x="549" y="322" width="12" height="12" fill="#f4f9fe"/>
<rect x="561" y="322" width="11" height="12" fill="#c6dbef"/>
<rect x="572" y="322" width="12" height="12" fill="#d5e5f4"/>
<rect x="584" y="322" width="11" height="12" fill="#d1e2f3"/>
<rect x="595" y="322" width="12" height="12" fill="#caddf0"/>
<rect x="607" y="322" width="11" height="12" fill="#c6dbef"/>
<rect x="618" y="322" width="11" height="12" fill="#bfd8ed"/>
<rect x="629" y="322" width="11" height="12" fill="#caddf0"/>
<rect x="446" y="334" width="12" height="11" fill="#f4f9fe"/>
<rect x="458" y="334" width="11" height="11" fill="#d9e7f5"/>
<rect x="469" y="334" width="12" height="11" fill="#f2f8fd"/>
<rect x="481" y="334" width="11" height="11" fill="#dceaf6"/>
<rect x="492" y="334" width="12" height="11" fill="#e4eff9"/>
<rect x="504" y="334" width="11" height="11" fill="#e0ecf8"/>
<rect x="515" y="334" width="11" height="11" fill="#e8f1fa"/>
<rect x="526" y="334" width="12" height="11" fill="#d9e7f5"/>
<rect x="538" y="334" width="23" height="11" fill="#d5e5f4"/>
<rect x="561" y="334" width="11" height="11" fill="#f2f8fd"/>
<rect x="572" y="334" width="12" height="11" fill="#ecf4fb"/>
<rect x="584" y="334" width="11" height="11" fill="#eef5fc"/>
<rect x="595" y="334" width="12" height="11" fill="#d9e7f5"/>
<rect x="607" y="334" width="11" height="11" fill="#b3d3e8"/>
<rect x="618" y="334" width="11" height="11" fill="#d1e2f3"/>
<rect x="629" y="334" width="11" height="11" fill="#d5e5f4"/>
<rect x="458" y="345" width="11" height="12" fill="#e0ecf8"/>
<rect x="469" y="345" width="12" height="12" fill="#f2f8fd"/>
<rect x="481" y="345" width="11" height="12" fill="#dceaf6"/>
<rect x="492" y="345" width="12" height="12" fill="#f0f6fd"/>
<rect x="504" y="345" width="11" height="12" fill="#e0ecf8"/>
<rect x="515" y="345" width="11" height="12" fill="#ecf4fb"/>
<rect x="526" y="345" width="12" height="12" fill="#e4eff9"/>
<rect x="538" y="345" width="11" height="12" fill="#dceaf6"/>
<rect x="549" y="345" width="12" height="12" fill="#d5e5f4"/>
<rect x="561" y="345" width="11" height="12" fill="#ecf4fb"/>
<rect x="572" y="345" width="23" height="12" fill="#f2f8fd"/>
<rect x="595" y="345" width="12" height="12" fill="#e4eff9"/>
<rect x="607" y="345" width="11" height="12" fill="#c6dbef"/>
<rect x="618" y="345" width="11" height="12" fill="#dceaf6"/>
<rect x="629" y="345" width="11" height="12" fill="#e0ecf8"/>
<rect x="469" y="357" width="12" height="11" fill="#e0ecf8"/>
<rect x="481" y="357" width="11" height="11" fill="#f4f9fe"/>
<rect x="492" y="357" width="12" height="11" fill="#d1e2f3"/>
<rect x="504" y="357" width="11" height="11" fill="#f2f8fd"/>
<rect x="515" y="357" width="11" height="11" fill="#f0f6fd"/>
<rect x="526" y="357" width="23" height="11" fill="#f5fafe"/>
<rect x="549" y="357" width="12" height="11" fill="#f0f6fd"/>
<rect x="561" y="357" width="11" height="11" fill="#caddf0"/>
<rect x="572" y="357" width="12" height="11" fill="#d9e7f5"/>
<rect x="584" y="357" width="11" height="11" fill="#dceaf6"/>
<rect x="595" y="357" width="12" height="11" fill="#b3d3e8"/>
<rect x="607" y="357" width="11" height="11" fill="#add0e6"/>
<rect x="618" y="357" width="11" height="11" fill="#91c3de"/>
<rect x="629" y="357" width="11" height="11" fill="#a6cee4"/>
<rect x="481" y="368" width="11" height="12" fill="#d9e7f5"/>
<rect x="492" y="368" width="12" height="12" fill="#f4f9fe"/>
<rect x="504" y="368" width="11" height="12" fill="#d9e7f5"/>
<rect x="515" y="368" width="11" height="12" fill="#f0f6fd"/>
<rect x="526" y="368" width="23" height="12" fill="#e0ecf8"/>
<rect x="549" y="368" width="12" height="12" fill="#c6dbef"/>
<rect x="561" y="368" width="11" height="12" fill="#f0f6fd"/>
<rect x="572" y="368" width="12" height="12" fill="#ecf4fb"/>
<rect x="584" y="368" width="11" height="12" fill="#f4f9fe"/>
<rect x="595" y="368" width="12" height="12" fill="#f0f6fd"/>
<rect x="607" y="368" width="11" height="12" fill="#d1e2f3"/>
<rect x="618" y="368" width="11" height="12" fill="#e8f1fa"/>
<rect x="629" y="368" width="11" height="12" fill="#ecf4fb"/>
<rect x="492" y="380" width="12" height="11" fill="#c6dbef"/>
<rect x="504" y="380" width="11" height="11" fill="#f4f9fe"/>
<rect x="515" y="380" width="34" height="11" fill="#f2f7fd"/>
<rect x="549" y="380" width="12" height="11" fill="#eef5fc"/>
<rect x="561" y="380" width="11" height="11" fill="#cde0f1"/>
<rect x="572" y="380" width="23" height="11" fill="#e0ecf8"/>
<rect x="595" y="380" width="12" height="11" fill="#add0e6"/>
<rect x="607" y="380" width="11" height="11" fill="#99c7e0"/>
<rect x="618" y="380" width="11" height="11" fill="#89bedc"/>
<rect x="629" y="380" width="11" height="11" fill="#99c7e0"/>
<rect x="504" y="391" width="11" height="12" fill="#c6dbef"/>
<rect x="515" y="391" width="11" height="12" fill="#e0ecf8"/>
<rect x="526" y="391" width="12" height="12" fill="#d1e2f3"/>
<rect x="538" y="391" width="11" height="12" fill="#cde0f1"/>
<rect x="549" y="391" width="12" height="12" fill="#bfd8ed"/>
<rect x="561" y="391" width="23" height="12" fill="#e4eff9"/>
<rect x="584" y="391" width="11" height="12" fill="#eef5fc"/>
<rect x="595" y="391" width="12" height="12" fill="#f2f8fd"/>
<rect x="607" y="391" width="11" height="12" fill="#d1e2f3"/>
<rect x="618" y="391" width="11" height="12" fill="#e8f1fa"/>
<rect x="629" y="391" width="11" height="12" fill="#ecf4fb"/>
<rect x="515" y="403" width="11" height="11" fill="#f4f9fe"/>
<rect x="526" y="403" width="23" height="11" fill="#f0f6fd"/>
<rect x="549" y="403" width="12" height="11" fill="#ecf4fb"/>
<rect x="561" y="403" width="11" height="11" fill="#c6dbef"/>
<rect x="572" y="403" width="12" height="11" fill="#e0ecf8"/>
<rect x="584" y="403" width="11" height="11" fill="#d9e7f5"/>
<rect x="595" y="403" width="45" height="11" fill="#b3d3e8"/>
<rect x="526" y="414" width="23" height="11" fill="#f0f6fd"/>
<rect x="549" y="414" width="12" height="11" fill="#e8f1fa"/>
<rect x="561" y="414" width="11" height="11" fill="#dceaf6"/>
<rect x="572" y="414" width="12" height="11" fill="#e0ecf8"/>
<rect x="584" y="414" width="11" height="11" fill="#ecf4fb"/>
<rect x="595" y="414" width="12" height="11" fill="#cde0f1"/>
<rect x="607" y="414" width="11" height="11" fill="#caddf0"/>
<rect x="618" y="414" width="11" height="11" fill="#cde0f1"/>
<rect x="629" y="414" width="11" height="11" fill="#d1e2f3"/>
<rect x="538" y="425" width="11" height="12" fill="#f4f9fe"/>
<rect x="549" y="425" width="12" height="12" fill="#f0f6fd"/>
<rect x="561" y="425" width="11" height="12" fill="#c6dbef"/>
<rect x="572" y="425" width="12" height="12" fill="#dceaf6"/>
<rect x="584" y="425" width="11" height="12" fill="#d9e7f5"/>
<rect x="595" y="425" width="12" height="12" fill="#c6dbef"/>
<rect x="607" y="425" width="11" height="12" fill="#bfd8ed"/>
<rect x="618" y="425" width="11" height="12" fill="#a6cee4"/>
<rect x="629" y="425" width="11" height="12" fill="#c6dbef"/>
<rect x="549" y="437" width="12" height="11" fill="#ecf4fb"/>
<rect x="561" y="437" width="11" height="11" fill="#bfd8ed"/>
<rect x="572" y="437" width="23" height="11" fill="#dceaf6"/>
<rect x="595" y="437" width="12" height="11" fill="#add0e6"/>
<rect x="607" y="437" width="11" height="11" fill="#99c7e0"/>
<rect x="618" y="437" width="11" height="11" fill="#79b5d9"/>
<rect x="629" y="437" width="11" height="11" fill="#99c7e0"/>
<rect x="561" y="448" width="11" height="12" fill="#a6cee4"/>
<rect x="572" y="448" width="12" height="12" fill="#c6dbef"/>
<rect x="584" y="448" width="11" height="12" fill="#bfd8ed"/>
<rect x="595" y="448" width="34" height="12" fill="#b9d6ea"/>
<rect x="629" y="448" width="11" height="12" fill="#c6dbef"/>
<rect x="572" y="460" width="12" height="11" fill="#d9e7f5"/>
<rect x="584" y="460" width="11" height="11" fill="#ecf4fb"/>
<rect x="595" y="460" width="12" height="11" fill="#cde0f1"/>
<rect x="607" y="460" width="11" height="11" fill="#a0cbe2"/>
<rect x="618" y="460" width="11" height="11" fill="#a6cee4"/>
<rect x="629" y="460" width="11" height="11" fill="#b9d6ea"/>
<rect x="584" y="471" width="11" height="12" fill="#e0ecf8"/>
<rect x="595" y="471" width="12" height="12" fill="#e4eff9"/>
<rect x="607" y="471" width="11" height="12" fill="#c6dbef"/>
<rect x="618" y="471" width="11" height="12" fill="#d5e5f4"/>
<rect x="629" y="471" width="11" height="12" fill="#dceaf6"/>
<rect x="595" y="483" width="12" height="11" fill="#cde0f1"/>
<rect x="607" y="483" width="22" height="11" fill="#caddf0"/>
<rect x="629" y="483" width="11" height="11" fill="#d1e2f3"/>
<rect x="607" y="494" width="22" height="12" fill="#ecf4fb"/>
<rect x="629" y="494" width="11" height="12" fill="#f0f6fd"/>
<rect x="618" y="506" width="11" height="11" fill="#eef5fc"/>
<rect x="629" y="506" width="11" height="11" fill="#f2f7fd"/>
<rect x="629" y="517" width="11" height="11" fill="#f2f7fd"/>
</g>
<path d="M166.5 60.5v5.8M166.5 540.5v-5.8M160.5 66.5h5.8M640.5 66.5h-5.8M177.5 60.5v5.8M177.5 540.5v-5.8M160.5 77.5h5.8M640.5 77.5h-5.8M189.5 60.5v5.8M189.5 540.5v-5.8M160.5 89.5h5.8M640.5 89.5h-5.8M200.5 60.5v5.8M200.5 540.5v-5.8M160.5 100.5h5.8M640.5 100.5h-5.8M211.5 60.5v5.8M211.5 540.5v-5.8M160.5 111.5h5.8M640.5 111.5h-5.8M223.5 60.5v5.8M223.5 540.5v-5.8M160.5 123.5h5.8M640.5 123.5h-5.8M234.5 60.5v5.8M234.5 540.5v-5.8M160.5 134.5h5.8M640.5 134.5h-5.8M246.5 60.5v5.8M246.5 540.5v-5.8M160.5 146.5h5.8M640.5 146.5h-5.8M257.5 60.5v5.8M257.5 540.5v-5.8M160.5 157.5h5.8M640.5 157.5h-5.8M269.5 60.5v5.8M269.5 540.5v-5.8M160.5 169.5h5.8M640.5 169.5h-5.8M280.5 60.5v5.8M280.5 540.5v-5.8M160.5 180.5h5.8M640.5 180.5h-5.8M291.5 60.5v5.8M291.5 540.5v-5.8M160.5 191.5h5.8M640.5 191.5h-5.8M303.5 60.5v5.8M303.5 540.5v-5.8M160.5 203.5h5.8M640.5 203.5h-5.8M314.5 60.5v5.8M314.5 540.5v-5.8M160.5 214.5h5.8M640.5 214.5h-5.8M326.5 60.5v5.8M326.5 540.5v-5.8M160.5 226.5h5.8M640.5 226.5h-5.8M337.5 60.5v5.8M337.5 540.5v-5.8M160.5 237.5h5.8M640.5 237.5h-5.8M349.5 60.5v5.8M349.5 540.5v-5.8M160.5 249.5h5.8M640.5 249.5h-5.8M360.5 60.5v5.8M360.5 540.5v-5.8M160.5 260.5h5.8M640.5 260.5h-5.8M371.5 60.5v5.8M371.5 540.5v-5.8M160.5 271.5h5.8M640.5 271.5h-5.8M383.5 60.5v5.8M383.5 540.5v-5.8M160.5 283.5h5.8M640.5 283.5h-5.8M394.5 60.5v5.8M394.5 540.5v-5.8M160.5 294.5h5.8M640.5 294.5h-5.8M406.5 60.5v5.8M406.5 540.5v-5.8M160.5 306.5h5.8M640.5 306.5h-5.8M417.5 60.5v5.8M417.5 540.5v-5.8M160.5 317.5h5.8M640.5 317.5h-5.8M429.5 60.5v5.8M429.5 540.5v-5.8M160.5 329.5h5.8M640.5 329.5h-5.8M440.5 60.5v5.8M440.5 540.5v-5.8M160.5 340.5h5.8M640.5 340.5h-5.8M451.5 60.5v5.8M451.5 540.5v-5.8M160.5 351.5h5.8M640.5 351.5h-5.8M463.5 60.5v5.8M463.5 540.5v-5.8M160.5 363.5h5.8M640.5 363.5h-5.8M474.5 60.5v5.8M474.5 540.5v-5.8M160.5 374.5h5.8M640.5 374.5h-5.8M486.5 60.5v5.8M486.5 540.5v-5.8M160.5 386.5h5.8M640.5 386.5h-5.8M497.5 60.5v5.8M497.5 540.5v-5.8M160.5 397.5h5.8M640.5 397.5h-5.8M509.5 60.5v5.8M509.5 540.5v-5.8M160.5 409.5h5.8M640.5 409.5h-5.8M520.5 60.5v5.8M520.5 540.5v-5.8M160.5 420.5h5.8M640.5 420.5h-5.8M531.5 60.5v5.8M531.5 540.5v-5.8M160.5 431.5h5.8M640.5 431.5h-5.8M543.5 60.5v5.8M543.5 540.5v-5.8M160.5 443.5h5.8M640.5 443.5h-5.8M554.5 60.5v5.8M554.5 540.5v-5.8M160.5 454.5h5.8M640.5 454.5h-5.8M566.5 60.5v5.8M566.5 540.5v-5.8M160.5 466.5h5.8M640.5 466.5h-5.8M577.5 60.5v5.8M577.5 540.5v-5.8M160.5 477.5h5.8M640.5 477.5h-5.8M589.5 60.5v5.8M589.5 540.5v-5.8M160.5 489.5h5.8M640.5 489.5h-5.8M600.5 60.5v5.8M600.5 540.5v-5.8M160.5 500.5h5.8M640.5 500.5h-5.8M611.5 60.5v5.8M611.5 540.5v-5.8M160.5 511.5h5.8M640.5 511.5h-5.8M623.5 60.5v5.8M623.5 540.5v-5.8M160.5 523.5h5.8M640.5 523.5h-5.8M634.5 60.5v5.8M634.5 540.5v-5.8M160.5 534.5h5.8M640.5 534.5h-5.8" stroke="#000" stroke-width="0.8" fill="none"/>
<rect x="160.5" y="60.5" width="480" height="480" fill="none" stroke="#000" stroke-width="1.3"/>
<g class="ax">
<text x="166.61" y="54" text-anchor="middle">C1'</text>
<text x="155.7" y="71.71" text-anchor="end">C1'</text>
<text x="223.76" y="54" text-anchor="middle">C4'</text>
<text x="155.7" y="128.86" text-anchor="end">C4'</text>
<text x="280.90" y="54" text-anchor="middle">N1</text>
<text x="155.7" y="186.00" text-anchor="end">N1</text>
<text x="338.04" y="54" text-anchor="middle">O2'</text>
<text x="155.7" y="243.14" text-anchor="end">O2'</text>
<text x="395.19" y="54" text-anchor="middle">OP2</text>
<text x="155.7" y="300.29" text-anchor="end">OP2</text>
<text x="452.33" y="54" text-anchor="middle">C3'</text>
<text x="155.7" y="357.43" text-anchor="end">C3'</text>
<text x="509.47" y="54" text-anchor="middle">C6</text>
<text x="155.7" y="414.57" text-anchor="end">C6</text>
<text x="566.61" y="54" text-anchor="middle">O2'</text>
<text x="155.7" y="471.71" text-anchor="end">O2'</text>
<text x="623.76" y="54" text-anchor="middle">OP2</text>
<text x="155.7" y="528.86" text-anchor="end">OP2</text>
</g>
<defs><linearGradient id="cb" x1="0" y1="1" x2="0" y2="0">
<stop offset="0.0000" stop-color="#f7fbff"/>
<stop offset="0.0156" stop-color="#f4f9fe"/>
<stop offset="0.0312" stop-color="#f1f7fd"/>
<stop offset="0.0469" stop-color="#eef5fc"/>
<stop offset="0.0625" stop-color="#eaf3fb"/>
<stop offset="0.0781" stop-color="#e7f1fa"/>
<stop offset="0.0938" stop-color="#e4eff9"/>
<stop offset="0.1094" stop-color="#e1edf8"/>
<stop offset="0.1250" stop-color="#deebf7"/>
<stop offset="0.1406" stop-color="#dbe9f6"/>
<stop offset="0.1562" stop-color="#d8e7f5"/>
<stop offset="0.1719" stop-color="#d5e5f4"/>
<stop offset="0.1875" stop-color="#d2e3f3"/>
<stop offset="0.2031" stop-color="#d0e1f2"/>
<stop offset="0.2188" stop-color="#ccdff1"/>
<stop offset="0.2344" stop-color="#c9ddf0"/>
<stop offset="0.2500" stop-color="#c6dbef"/>
<stop offset="0.2656" stop-color="#c1d9ed"/>
<stop offset="0.2812" stop-color="#bcd7eb"/>
<stop offset="0.2969" stop-color="#b7d4ea"/>
<stop offset="0.3125" stop-color="#b2d2e8"/>
<stop offset="0.3281" stop-color="#aed1e7"/>
<stop offset="0.3438" stop-color="#a8cee4"/>
<stop offset="0.3594" stop-color="#a3cce3"/>
<stop offset="0.3750" stop-color="#9dcae1"/>
<stop offset="0.3906" stop-color="#97c6df"/>
<stop offset="0.4062" stop-color="#92c4de"/>
<stop offset="0.4219" stop-color="#8abfdd"/>
<stop offset="0.4375" stop-color="#84bcdb"/>
<stop offset="0.4531" stop-color="#7db8da"/>
<stop offset="0.4688" stop-color="#77b5d9"/>
<stop offset="0.4844" stop-color="#72b2d8"/>
<stop offset="0.5000" stop-color="#6aaed6"/>
<stop offset="0.5156" stop-color="#65aad4"/>
<stop offset="0.5312" stop-color="#60a7d2"/>
<stop offset="0.5469" stop-color="#5ba3d0"/>
<stop offset="0.5625" stop-color="#56a0ce"/>
<stop offset="0.5781" stop-color="#519ccc"/>
<stop offset="0.5938" stop-color="#4b98ca"/>
<stop offset="0.6094" stop-color="#4695c8"/>
<stop offset="0.6250" stop-color="#4191c6"/>
<stop offset="0.6406" stop-color="#3d8dc4"/>
<stop offset="0.6562" stop-color="#3a8ac2"/>
<stop offset="0.6719" stop-color="#3585bf"/>
<stop offset="0.6875" stop-color="#3181bd"/>
<stop offset="0.7031" stop-color="#2d7dbb"/>
<stop offset="0.7188" stop-color="#2979b9"/>
<stop offset="0.7344" stop-color="#2575b7"/>
<stop offset="0.7500" stop-color="#2070b4"/>
<stop offset="0.7656" stop-color="#1d6cb1"/>
<stop offset="0.7812" stop-color="#1a68ae"/>
<stop offset="0.7969" stop-color="#1764ab"/>
<stop offset="0.8125" stop-color="#1561a9"/>
<stop offset="0.8281" stop-color="#115ca5"/>
<stop offset="0.8438" stop-color="#0e58a2"/>
<stop offset="0.8594" stop-color="#0a549e"/>
<stop offset="0.8750" stop-color="#08509b"/>
<stop offset="0.8906" stop-color="#084d96"/>
<stop offset="0.9062" stop-color="#08488e"/>
<stop offset="0.9219" stop-color="#084488"/>
<stop offset="0.9375" stop-color="#084082"/>
<stop offset="0.9531" stop-color="#083b7c"/>
<stop offset="0.9688" stop-color="#083877"/>
<stop offset="0.9844" stop-color="#083370"/>
<stop offset="1.0000" stop-color="#08306b"/>
</linearGradient></defs>
<rect x="680.5" y="60.5" width="16.00" height="480" fill="url(#cb)" stroke="#000" stroke-width="1.3"/>
<g class="cb">
<text x="700.70" y="545.50">0.00</text>
<text x="700.70" y="490.47">0.03</text>
<text x="700.70" y="434.44">0.06</text>
<text x="700.70" y="378.41">0.09</text>
<text x="700.70" y="322.38">0.12</text>
<text x="700.70" y="266.34">0.15</text>
<text x="700.70" y="210.31">0.18</text>
<text x="700.70" y="154.28">0.21</text>
<text x="700.70" y="98.25">0.24</text>
</g>
<path d="M696.5 540.5h-5.8M696.5 484.5h-5.8M696.5 428.5h-5.8M696.5 372.5h-5.8M696.5 316.5h-5.8M696.5 260.5h-5.8M696.5 204.5h-5.8M696.5 148.5h-5.8M696.5 92.5h-5.8" stroke="#000" stroke-width="0.8" fill="none"/>
</svg></body></html>
